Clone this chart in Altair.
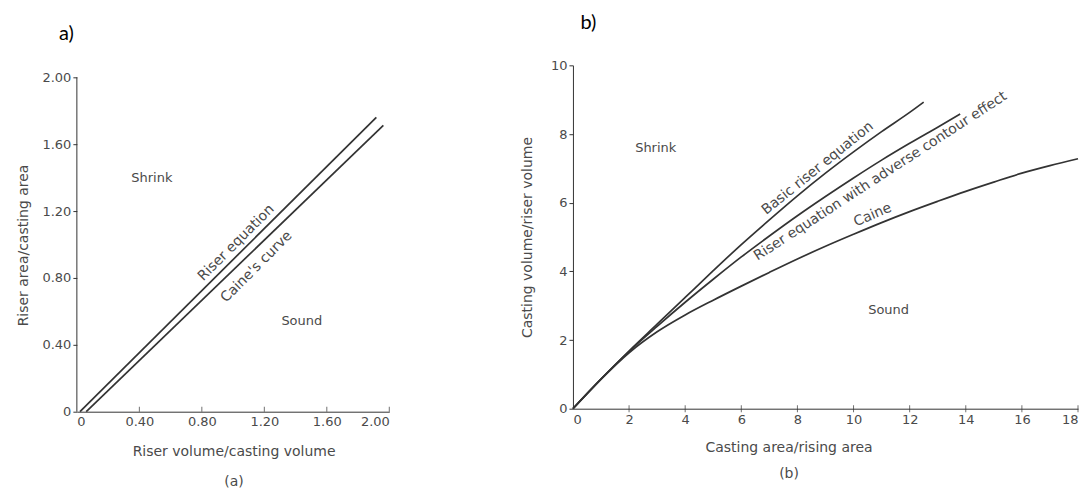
import altair as alt
import pandas as pd

# ---------------- Panel a) ----------------
a_riser_x = [0.02, 1.917]
a_riser_y = [0.0, 1.761]
a_caine_x = [0.06, 1.962]
a_caine_y = [0.0, 1.713]
a_ticks = [0.0, 0.4, 0.8, 1.2, 1.6, 2.0]

# ---------------- Panel b) ----------------
b_basic_x = [0, 1, 2, 3, 4, 5, 6, 7, 8, 9, 10, 11, 12, 12.5]
b_basic_y = [0, 0.86, 1.68, 2.46, 3.24, 4.02, 4.78, 5.5, 6.2, 6.86, 7.48, 8.07, 8.63, 8.93]
b_adverse_x = [0, 1, 2, 3, 4, 5, 6, 7, 8, 9, 10, 11, 12, 13, 13.8]
b_adverse_y = [0, 0.86, 1.67, 2.4, 3.1, 3.77, 4.42, 5.03, 5.62, 6.18, 6.72, 7.24, 7.73, 8.2, 8.58]
b_caine_x = [0, 1, 2, 3, 4, 5, 6, 7, 8, 9, 10, 11, 12, 13, 14, 15, 16, 17, 18]
b_caine_y = [0, 0.86, 1.63, 2.24, 2.73, 3.16, 3.57, 3.97, 4.36, 4.73, 5.08, 5.42, 5.74, 6.04, 6.33, 6.6, 6.86, 7.08, 7.28]
b_xticks = [0, 2, 4, 6, 8, 10, 12, 14, 16, 18]
b_yticks = [0, 2, 4, 6, 8, 10]

FONT = "DejaVu Sans"
INK = "#333333"
TXT = "#4a4a4a"

def line_df(xs, ys, name):
    return pd.DataFrame({"x": xs, "y": ys, "series": name})

# ---- panel a ----
A_W, A_H = 313, 347
a_ymax = 2.0 * A_H / 335.0

xa = alt.X("x:Q", scale=alt.Scale(domain=[0, 2.0], nice=False, zero=False),
           axis=alt.Axis(values=a_ticks, labelExpr="datum.value == 0 ? '0' : format(datum.value, '.2f')",
                         title=["Riser volume/casting volume", "(a)"], grid=False, ticks=False,
                         labelPadding=4, titleX=157, titlePadding=16, titleLineHeight=30))
ya = alt.Y("y:Q", scale=alt.Scale(domain=[0, a_ymax], nice=False, zero=False),
           axis=alt.Axis(values=a_ticks, labelExpr="datum.value == 0 ? '0' : format(datum.value, '.2f')",
                         title="Riser area/casting area", grid=False, domain=False,
                         titleY=180, titlePadding=12))

a_lines = alt.Chart(pd.concat([line_df(a_riser_x, a_riser_y, "Riser equation"),
                               line_df(a_caine_x, a_caine_y, "Caine's curve")])).mark_line(
    color=INK, strokeWidth=1.7).encode(x=xa, y=ya, detail="series:N")

a_axis_line = alt.Chart(pd.DataFrame({"x": [0.0], "y": [0.0], "y2": [2.0]})).mark_rule(
    color=INK, strokeWidth=1).encode(x="x:Q", y="y:Q", y2="y2:Q")

a_xtick_marks = alt.Chart(pd.DataFrame({"x": a_ticks[1:], "y": [0.0] * (len(a_ticks) - 1)})).mark_tick(
    orient="vertical", size=5, thickness=1, color=INK, yOffset=-2.5).encode(x="x:Q", y="y:Q")

def label(df_x, df_y, txt, angle, size=13):
    return alt.Chart(pd.DataFrame({"x": [df_x], "y": [df_y], "t": [txt]})).mark_text(
        font=FONT, fontSize=size, color=TXT, angle=angle).encode(x="x:Q", y="y:Q", text="t:N")

a_texts = [
    label(0.48, 1.40, "Shrink", 0),
    label(1.44, 0.54, "Sound", 0),
    label(1.02, 1.01, "Riser equation", 315, 14),
    label(1.15, 0.866, "Caine's curve", 315, 14),
]

panel_a = alt.layer(a_lines, a_axis_line, a_xtick_marks, *a_texts).properties(
    width=A_W, height=A_H,
    title=alt.TitleParams("a)", anchor="start", dx=43, offset=21, fontSize=20,
                          font="Lato", fontWeight="normal", color="black"))

# ---- panel b ----
B_W, B_H = 506, 344
xb = alt.X("x:Q", scale=alt.Scale(domain=[0, 18], nice=False, zero=False),
           axis=alt.Axis(values=b_xticks, title=["Casting area/rising area", "(b)"], grid=False,
                         ticks=False, labelPadding=5,
                         titleX=216, titlePadding=14, titleLineHeight=26))
yb = alt.Y("y:Q", scale=alt.Scale(domain=[0, 10], nice=False, zero=False),
           axis=alt.Axis(values=b_yticks, title="Casting volume/riser volume", grid=False,
                         titlePadding=16))

b_lines = alt.Chart(pd.concat([line_df(b_basic_x, b_basic_y, "Basic riser equation"),
                               line_df(b_adverse_x, b_adverse_y, "Riser equation with adverse contour effect"),
                               line_df(b_caine_x, b_caine_y, "Caine")])).mark_line(
    color=INK, strokeWidth=1.7, interpolate="monotone").encode(x=xb, y=yb, detail="series:N")

b_xtick_marks = alt.Chart(pd.DataFrame({"x": b_xticks[1:], "y": [0.0] * (len(b_xticks) - 1)})).mark_tick(
    orient="vertical", size=7, thickness=1, color=INK).encode(x="x:Q", y="y:Q")

b_texts = [
    label(2.95, 7.59, "Shrink", 0),
    label(11.25, 2.88, "Sound", 0),
    label(8.72, 7.0, "Basic riser equation", 321, 14),
    label(10.96, 6.77, "Riser equation with adverse contour effect", 327, 14),
    label(10.68, 5.64, "Caine", 337, 14),
]

panel_b = alt.layer(b_lines, b_xtick_marks, *b_texts).properties(
    width=B_W, height=B_H,
    title=alt.TitleParams("b)", anchor="start", dx=60, offset=26, fontSize=20,
                          font="Lato", fontWeight="normal", color="black"))

chart = alt.hconcat(panel_a, panel_b, spacing=184, bounds="flush").properties(
    padding={"left": 8, "top": 5, "right": 0, "bottom": 0}
).configure_view(stroke=None).configure_axis(
    labelFont=FONT, labelFontSize=13, labelColor=TXT, titleFont=FONT, titleFontSize=14,
    titleColor=TXT, titleFontWeight="normal", domainColor=INK, tickColor=INK,
    tickSize=4, labelPadding=2
).configure_title(font="Lato")

chart.save("out.html", embed_options={"renderer": "svg", "actions": False})
